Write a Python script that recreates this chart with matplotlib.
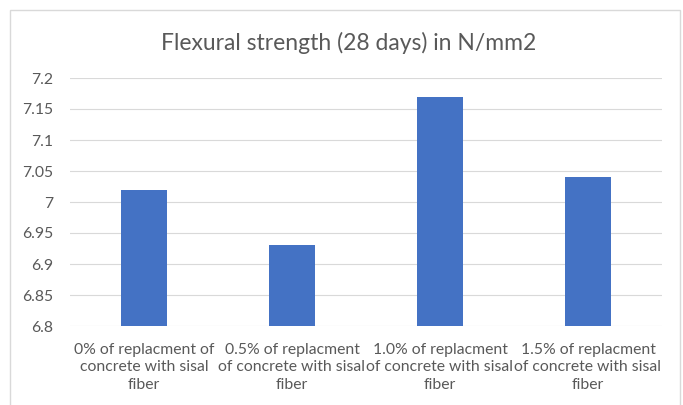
import matplotlib

matplotlib.use("Agg")
import matplotlib.pyplot as plt
from matplotlib.patches import Rectangle

categories = [
    "0% of replacment of\nconcrete with sisal\nfiber",
    "0.5% of replacment\nof concrete with sisal\nfiber",
    "1.0% of replacment\nof concrete with sisal\nfiber",
    "1.5% of replacment\nof concrete with sisal\nfiber",
]
strength = [7.02, 6.93, 7.17, 7.04]
yticks = [6.8, 6.85, 6.9, 6.95, 7.0, 7.05, 7.1, 7.15, 7.2]
ytick_labels = ["6.8", "6.85", "6.9", "6.95", "7", "7.05", "7.1", "7.15", "7.2"]

plt.rcParams["font.family"] = ["Lato", "DejaVu Sans"]

fig = plt.figure(figsize=(6.83, 4.05), dpi=100)
fig.patch.set_facecolor("white")
fig.patches.append(
    Rectangle((10 / 683, -0.05), 670 / 683, 1.05 - 10 / 405, transform=fig.transFigure,
              facecolor="none", edgecolor="#D9D9D9", lw=1.0)
)

ax = fig.add_axes([70 / 683, 1 - 326 / 405, 592 / 683, 248 / 405])
x = range(len(categories))
ax.bar(x, strength, width=0.31, color="#4472C4", zorder=3)
ax.set_ylim(6.8, 7.2)
ax.set_xlim(-0.5, len(categories) - 0.5)
ax.set_yticks(yticks)
ax.set_yticklabels(ytick_labels)
ax.set_xticks(list(x))
ax.set_xticklabels(categories, linespacing=1.32)
ax.tick_params(axis="both", length=0, labelsize=11.3, colors="#595959")
ax.tick_params(axis="x", pad=12)
ax.tick_params(axis="y", pad=12)
ax.grid(axis="y", color="#D9D9D9", lw=0.8, zorder=0)
for s in ax.spines.values():
    s.set_visible(False)

fig.text(349 / 683, 1 - 43 / 405, "Flexural strength (28 days) in N/mm2",
         ha="center", va="center", fontsize=16.5, color="#595959")

fig.savefig("out.png", dpi=100, facecolor="white")
